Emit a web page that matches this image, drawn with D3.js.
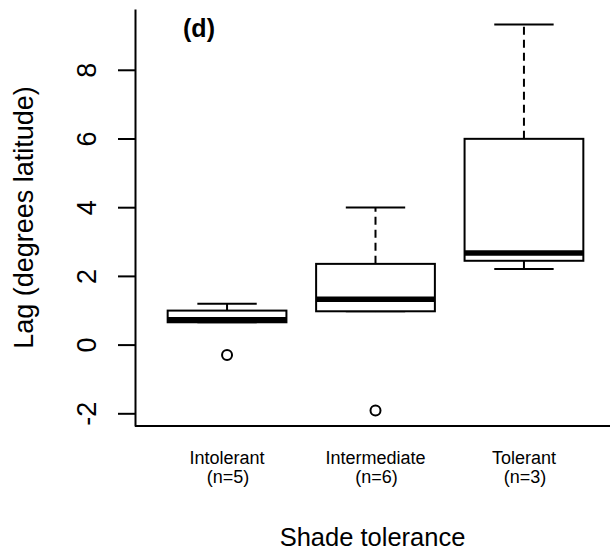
<!DOCTYPE html>
<html>
<head>
<meta charset="utf-8">
<script src="https://cdn.jsdelivr.net/npm/d3@7"></script>
<style>
  body { margin: 0; background: #fff; }
  #graf text { font-family: "Liberation Sans", Arial, sans-serif; fill: #000; }
</style>
</head>
<body>
<div id="graf"></div>
<script>
// datos
categorias = ['Intolerant', 'Intermediate', 'Tolerant']
etiquetasN = ['(n=5)', '(n=6)', '(n=3)']
bigoteInf  = [0.65, 0.97, 2.20]
cuartil1   = [0.65, 0.97, 2.44]
mediana    = [0.72, 1.32, 2.67]
cuartil3   = [0.99, 2.35, 5.99]
bigoteSup  = [1.19, 3.99, 9.32]
atipicos   = [[-0.30], [-1.92], []]
ticksY     = [-2, 0, 2, 4, 6, 8]

// I. Configuracion
ancho_total = 610
alto_total = 551
margins = { top: 9, left: 135, right: -6, bottom: 125 }

ancho = ancho_total - margins.left - margins.right
alto  = alto_total - margins.top - margins.bottom

svg = d3.select('#graf').append('svg')
        .attr('width', ancho_total)
        .attr('height', alto_total)

g = svg.append('g')
       .attr('transform', `translate(${ margins.left }, ${ margins.top })`)

// rango de y como en R (4% extra a cada lado)
minY = d3.min([d3.min(bigoteInf), d3.min(atipicos.flat())])
maxY = d3.max(bigoteSup)
extra = (maxY - minY) * 0.04

y = d3.scaleLinear()
      .domain([minY - extra, maxY + extra])
      .range([alto, 0])

x = d3.scaleLinear()
      .domain([0.5 - 0.12, categorias.length + 0.5 + 0.12])
      .range([0, ancho])

mitad = (x(1.4) - x(1)) // media caja = 0.4 unidades

datos = categorias.map((c, i) => ({
  nombre: c, n: etiquetasN[i], pos: i + 1,
  lo: bigoteInf[i], q1: cuartil1[i], med: mediana[i], q3: cuartil3[i], hi: bigoteSup[i],
  out: atipicos[i]
}))

// II. Ejes
yAxis = d3.axisLeft(y)
          .tickValues(ticksY)
          .tickSize(17)
          .tickSizeOuter(0)
          .tickFormat(d => d)

ejeY = g.append('g').call(yAxis)
ejeY.select('.domain').attr('stroke-width', 2)
ejeY.selectAll('.tick line').attr('stroke-width', 2)
ejeY.selectAll('.tick text')
    .attr('x', null).attr('dy', null)
    .attr('text-anchor', 'middle')
    .attr('transform', 'translate(-48, 0) rotate(-90)')
    .attr('dy', '0.35em')
    .style('font-size', '27px')

g.append('line')
   .attr('x1', 0).attr('x2', ancho)
   .attr('y1', alto).attr('y2', alto)
   .attr('stroke', '#000').attr('stroke-width', 2)

// III. Cajas
cajas = g.selectAll('g.caja')
         .data(datos)
         .enter().append('g').attr('class', 'caja')

// bigotes punteados
cajas.append('line')
   .attr('x1', d => x(d.pos)).attr('x2', d => x(d.pos))
   .attr('y1', d => y(d.q3)).attr('y2', d => y(d.hi))
   .attr('stroke', '#000').attr('stroke-width', 2).attr('stroke-dasharray', '8,5')
cajas.append('line')
   .attr('x1', d => x(d.pos)).attr('x2', d => x(d.pos))
   .attr('y1', d => y(d.q1)).attr('y2', d => y(d.lo))
   .attr('stroke', '#000').attr('stroke-width', 2).attr('stroke-dasharray', '8,5')

// topes
cajas.selectAll('line.tope')
   .data(d => [d.lo, d.hi].map(v => ({ pos: d.pos, v: v })))
   .enter().append('line').attr('class', 'tope')
   .attr('x1', d => x(d.pos) - mitad / 2).attr('x2', d => x(d.pos) + mitad / 2)
   .attr('y1', d => y(d.v)).attr('y2', d => y(d.v))
   .attr('stroke', '#000').attr('stroke-width', 2)

cajas.append('rect')
   .attr('x', d => x(d.pos) - mitad)
   .attr('y', d => y(d.q3))
   .attr('width', mitad * 2)
   .attr('height', d => y(d.q1) - y(d.q3))
   .attr('fill', '#fff')
   .attr('stroke', '#000').attr('stroke-width', 2)

cajas.append('line')
   .attr('x1', d => x(d.pos) - mitad).attr('x2', d => x(d.pos) + mitad)
   .attr('y1', d => y(d.med)).attr('y2', d => y(d.med))
   .attr('stroke', '#000').attr('stroke-width', 5.5)

cajas.selectAll('circle')
   .data(d => d.out.map(v => ({ pos: d.pos, v: v })))
   .enter().append('circle')
   .attr('cx', d => x(d.pos)).attr('cy', d => y(d.v))
   .attr('r', 5)
   .attr('fill', 'none').attr('stroke', '#000').attr('stroke-width', 2)

// etiquetas de categorias
etiq = g.selectAll('text.cat')
   .data(datos)
   .enter().append('text').attr('class', 'cat')
   .attr('text-anchor', 'middle')
   .style('font-size', '18px')
etiq.append('tspan').attr('x', d => x(d.pos)).attr('y', alto + 38).text(d => d.nombre)
etiq.append('tspan').attr('x', d => x(d.pos) + 1).attr('y', alto + 57).text(d => d.n)

// titulos
svg.append('text')
   .attr('x', margins.left + (610 - margins.left) / 2)
   .attr('y', 546)
   .attr('text-anchor', 'middle')
   .style('font-size', '25.5px')
   .text('Shade tolerance')

svg.append('text')
   .attr('transform', `translate(33, ${ margins.top + alto / 2 }) rotate(-90)`)
   .attr('text-anchor', 'middle')
   .style('font-size', '27px')
   .text('Lag (degrees latitude)')

svg.append('text')
   .attr('x', 199)
   .attr('y', 37)
   .attr('text-anchor', 'middle')
   .style('font-size', '25px')
   .style('font-weight', 'bold')
   .text('(d)')
</script>
</body>
</html>
